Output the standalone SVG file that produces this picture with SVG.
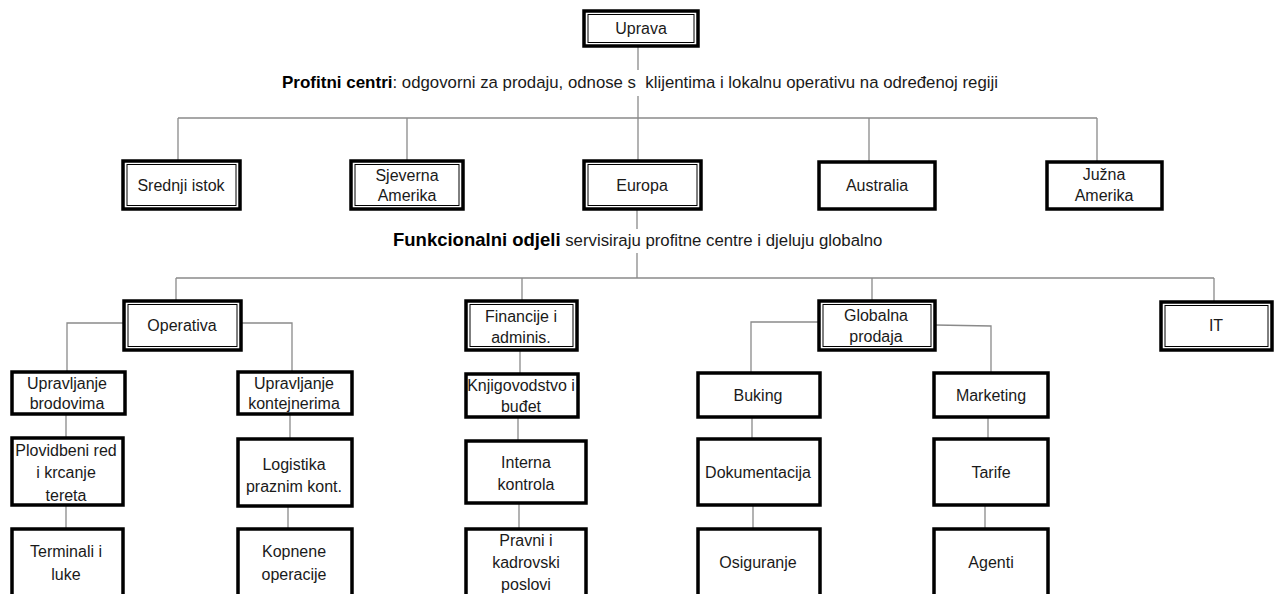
<svg xmlns="http://www.w3.org/2000/svg" width="1275" height="594" viewBox="0 0 1275 594">
<style>
  .bx{fill:#fff;stroke:#000;stroke-width:3.5}
  .in{fill:none;stroke:#000;stroke-width:1}
  .t{font-family:"Liberation Sans",Arial,sans-serif;font-size:16px;fill:#1a1a1a;text-anchor:middle}
  .cap{font-family:"Liberation Sans",Arial,sans-serif;font-size:16.8px;fill:#1a1a1a}
  .capb{font-weight:bold;fill:#000}
  .c{fill:none;stroke:#8a8a8a;stroke-width:1.3}
</style>
<rect width="1275" height="594" fill="#fff"/>
<g id="connectors">
  <path class="c" d="M638 46V70M638 96V118M178 118H1097M178 118V161M407 118V161M638 118V161M869 118V161M1097 118V161"/>
  <path class="c" d="M637 210V229M637 253V278M176 278H1214M176 278V300M522 278V300M872 278V300M1214 278V301"/>
  <path class="c" d="M123 323H67V371M241 323H292V371M66 414V437M66 505V528M290 414V438M288 506V528"/>
  <path class="c" d="M520 350V373M518 417V440M519 503V528"/>
  <path class="c" d="M818 322H751V372M935 325L991 326V372M752 417V438M753 505V528M988 417V438M985 505V528"/>
</g>
<g id="captions">
  <text class="cap" x="282" y="88" xml:space="preserve"><tspan class="capb" font-size="17">Profitni centri</tspan>: odgovorni za prodaju, odnose s  klijentima i lokalnu operativu na određenoj regiji</text>
  <text class="cap" x="393" y="246" font-size="17"><tspan class="capb" font-size="18.5">Funkcionalni odjeli</tspan> servisiraju profitne centre i djeluju globalno</text>
</g>
<g id="uprava"><rect class="bx" x="584" y="11" width="114" height="35"/><rect class="in" x="588" y="14.5" width="106" height="28"/><text class="t" x="641" y="34">Uprava</text></g>
<g id="srednji-istok"><rect class="bx" x="123" y="161" width="117" height="48"/><rect class="in" x="127" y="164.5" width="109" height="41"/><text class="t" x="181" y="191">Srednji istok</text></g>
<g id="sjeverna-amerika"><rect class="bx" x="351" y="161" width="112" height="48"/><rect class="in" x="355" y="164.5" width="104" height="41"/><text class="t" x="407" y="181">Sjeverna</text><text class="t" x="407" y="201">Amerika</text></g>
<g id="europa"><rect class="bx" x="584" y="161" width="117" height="48"/><rect class="in" x="588" y="164.5" width="109" height="41"/><text class="t" x="642" y="191">Europa</text></g>
<g id="australia"><rect class="bx" x="819" y="162" width="116" height="47"/><text class="t" x="877" y="191">Australia</text></g>
<g id="juzna-amerika"><rect class="bx" x="1047" y="162" width="115" height="47"/><text class="t" x="1104" y="180">Južna</text><text class="t" x="1104" y="201">Amerika</text></g>
<g id="operativa"><rect class="bx" x="124" y="301" width="117" height="49"/><rect class="in" x="128" y="304.5" width="109" height="42"/><text class="t" x="182" y="331">Operativa</text></g>
<g id="financije"><rect class="bx" x="466" y="301" width="111" height="49"/><rect class="in" x="470" y="304.5" width="103" height="42"/><text class="t" x="521" y="322">Financije i</text><text class="t" x="521" y="343">adminis.</text></g>
<g id="globalna-prodaja"><rect class="bx" x="819" y="301" width="116" height="49"/><rect class="in" x="823" y="304.5" width="108" height="42"/><text class="t" x="876" y="321">Globalna</text><text class="t" x="876" y="342">prodaja</text></g>
<g id="it"><rect class="bx" x="1161" y="302" width="111" height="48"/><rect class="in" x="1165" y="305.5" width="103" height="41"/><text class="t" x="1216" y="331">IT</text></g>
<g id="upravljanje-brodovima"><rect class="bx" x="12" y="372" width="113" height="42"/><text class="t" x="67" y="389">Upravljanje</text><text class="t" x="67" y="409">brodovima</text></g>
<g id="upravljanje-kontejnerima"><rect class="bx" x="238" y="372" width="114" height="42"/><text class="t" x="294" y="389">Upravljanje</text><text class="t" x="294" y="409">kontejnerima</text></g>
<g id="plovidbeni-red"><rect class="bx" x="12" y="438" width="111" height="67"/><text class="t" x="66" y="456">Plovidbeni red</text><text class="t" x="66" y="478">i krcanje</text><text class="t" x="66" y="501">tereta</text></g>
<g id="terminali"><rect class="bx" x="12" y="529" width="111" height="75"/><text class="t" x="66" y="557">Terminali i</text><text class="t" x="66" y="580">luke</text></g>
<g id="logistika"><rect class="bx" x="238" y="439" width="114" height="67"/><text class="t" x="294" y="470">Logistika</text><text class="t" x="294" y="492">praznim kont.</text></g>
<g id="kopnene"><rect class="bx" x="238" y="529" width="114" height="75"/><text class="t" x="294" y="557">Kopnene</text><text class="t" x="294" y="580">operacije</text></g>
<g id="knjigovodstvo"><rect class="bx" x="466" y="374" width="112" height="43"/><text class="t" x="521" y="391">Knjigovodstvo i</text><text class="t" x="521" y="412">buđet</text></g>
<g id="interna-kontrola"><rect class="bx" x="466" y="441" width="120" height="62"/><text class="t" x="526" y="468">Interna</text><text class="t" x="526" y="490">kontrola</text></g>
<g id="pravni"><rect class="bx" x="466" y="529" width="120" height="75"/><text class="t" x="526" y="546">Pravni i</text><text class="t" x="526" y="568">kadrovski</text><text class="t" x="526" y="590">poslovi</text></g>
<g id="buking"><rect class="bx" x="698" y="373" width="122" height="44"/><text class="t" x="758" y="401">Buking</text></g>
<g id="dokumentacija"><rect class="bx" x="698" y="439" width="122" height="66"/><text class="t" x="758" y="478">Dokumentacija</text></g>
<g id="osiguranje"><rect class="bx" x="698" y="529" width="122" height="75"/><text class="t" x="758" y="568">Osiguranje</text></g>
<g id="marketing"><rect class="bx" x="934" y="373" width="114" height="44"/><text class="t" x="991" y="401">Marketing</text></g>
<g id="tarife"><rect class="bx" x="934" y="439" width="114" height="66"/><text class="t" x="991" y="478">Tarife</text></g>
<g id="agenti"><rect class="bx" x="934" y="529" width="114" height="75"/><text class="t" x="991" y="568">Agenti</text></g>
</svg>
